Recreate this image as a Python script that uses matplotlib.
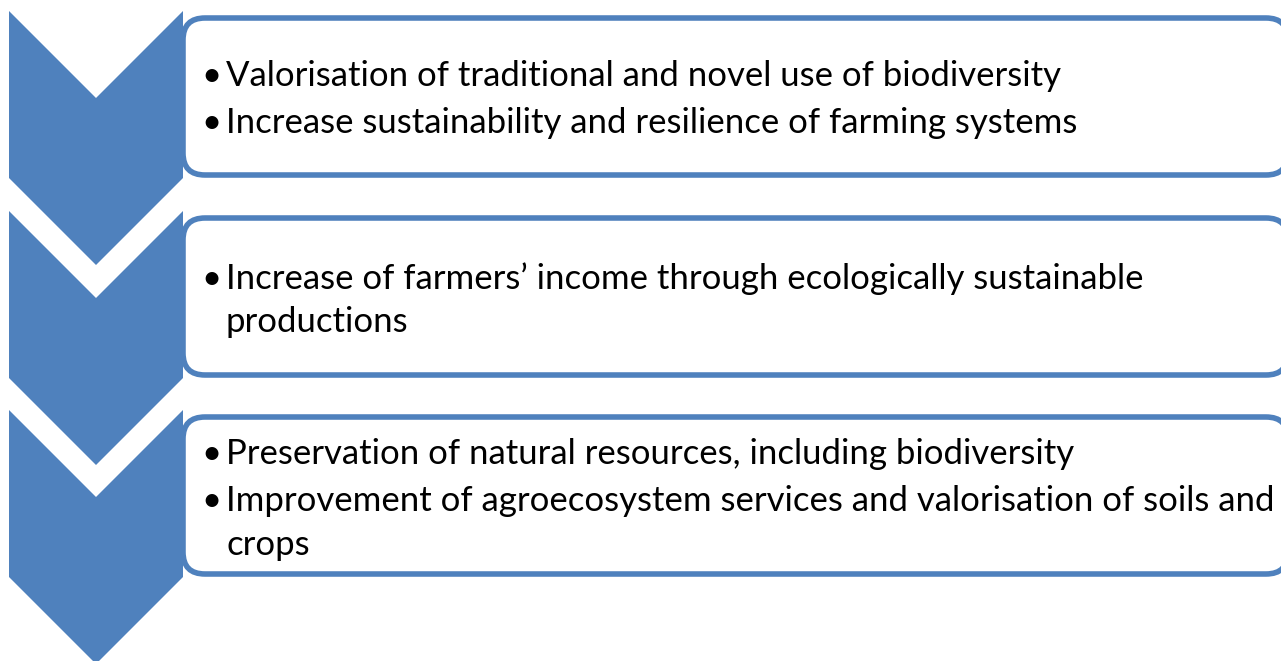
import matplotlib.pyplot as plt
from matplotlib.patches import Polygon, FancyBboxPatch

plt.rcParams['font.family'] = ['Lato', 'DejaVu Sans']

# 三个步骤的文字（每行一个列表项，续行不带圆点）
box1 = [('•', 'Valorisation of traditional and novel use of biodiversity'),
        ('•', 'Increase sustainability and resilience of farming systems')]
box2 = [('•', 'Increase of farmers’ income through ecologically sustainable'),
        ('', 'productions')]
box3 = [('•', 'Preservation of natural resources, including biodiversity'),
        ('•', 'Improvement of agroecosystem services and valorisation of soils and'),
        ('', 'crops')]
boxes = [box1, box2, box3]

blue = '#4F81BD'

W, H = 1281, 661
fig = plt.figure(figsize=(W / 100, H / 100), dpi=100)
ax = fig.add_axes([0, 0, 1, 1])
ax.set_xlim(0, W)
ax.set_ylim(H, 0)
ax.axis('off')

# 布局（像素）
chev_top = [11, 211, 410]
chev_x0, chev_x1 = 9, 183
notch = 87
body = 167
box_top = [18, 218, 417]
box_h = 157
baselines = [[86, 133], [289, 332], [464, 511, 555]]
fs = 25

for i in range(3):
    t = chev_top[i]
    xm = (chev_x0 + chev_x1) / 2
    pts = [(chev_x0, t), (xm, t + notch), (chev_x1, t), (chev_x1, t + body),
           (xm, t + body + notch), (chev_x0, t + body)]
    ax.add_patch(Polygon(pts, closed=True, facecolor=blue, edgecolor='none', zorder=1))

    box = FancyBboxPatch((chev_x1, box_top[i]), 1105, box_h,
                         boxstyle='round,pad=0,rounding_size=22',
                         facecolor='white', edgecolor=blue, linewidth=4, zorder=2)
    ax.add_patch(box)

    for (b, txt), y in zip(boxes[i], baselines[i]):
        if b:
            ax.text(201, y, b, fontsize=fs, va='baseline', ha='left', color='black', zorder=3)
        ax.text(226, y, txt, fontsize=fs, va='baseline', ha='left', color='black', zorder=3)

fig.savefig('out.png', dpi=100)
